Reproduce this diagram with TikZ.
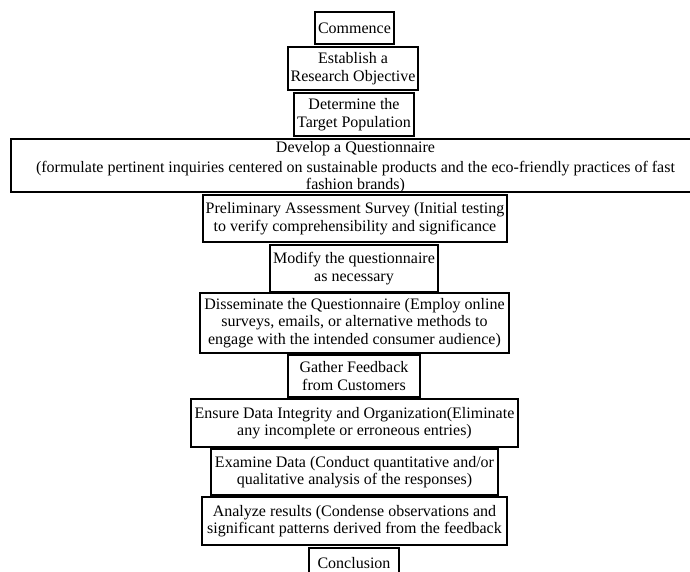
\documentclass[tikz,border=0pt]{standalone}
\usepackage{fontspec}
\setmainfont{Liberation Serif}
\begin{document}
\begin{tikzpicture}[x=1pt,y=-1pt,
  boxtext/.style={inner sep=0pt, align=center,
    font=\fontsize{16}{17.5}\selectfont},
  box/.style={boxtext, draw, line width=1.1pt}]
\useasboundingbox (0,0) rectangle (690,571);
\clip (0,0) rectangle (690,571);
\node[box, minimum width=79pt, minimum height=32pt] (commence) at (354.5,28) {Commence};
\node[box, minimum width=130pt, minimum height=43pt] (establish) at (353,68.5) {Establish a\\Research Objective};
\node[box, minimum width=120pt, minimum height=43pt] (determine) at (354,114.5) {Determine the\\Target Population};
\node[box, minimum width=689pt, minimum height=53pt] (develop) at (355.5,165.5) {};
\node[boxtext] (developtext) at ([yshift=-2pt]develop.center) {Develop a Questionnaire\\[2pt](formulate pertinent inquiries centered on sustainable products and the eco-friendly practices of fast\\fashion brands)};
\node[box, minimum width=304pt, minimum height=47pt] (prelim) at (355,218.5) {Preliminary Assessment Survey (Initial testing\\to verify comprehensibility and significance};
\node[box, minimum width=168pt, minimum height=47pt] (modify) at (354,268.5) {Modify the questionnaire\\as necessary};
\node[box, minimum width=309pt, minimum height=60pt] (dissem) at (354.5,323) {Disseminate the Questionnaire (Employ online\\surveys, emails, or alternative methods to\\engage with the intended consumer audience)};
\node[box, minimum width=132pt, minimum height=42pt] (gather) at (354,376) {Gather Feedback\\from Customers};
\node[box, minimum width=327pt, minimum height=48pt] (ensure) at (354.5,423) {Ensure Data Integrity and Organization(Eliminate\\any incomplete or erroneous entries)};
\node[box, minimum width=287pt, minimum height=46pt] (examine) at (354.5,472) {Examine Data (Conduct quantitative and/or\\qualitative analysis of the responses)};
\node[box, minimum width=305pt, minimum height=48pt] (analyze) at (354.5,521) {Analyze results (Condense observations and\\significant patterns derived from the feedback};
\node[box, minimum width=90pt, minimum height=30pt] (conclusion) at (354,563) {Conclusion};
\end{tikzpicture}
\end{document}
